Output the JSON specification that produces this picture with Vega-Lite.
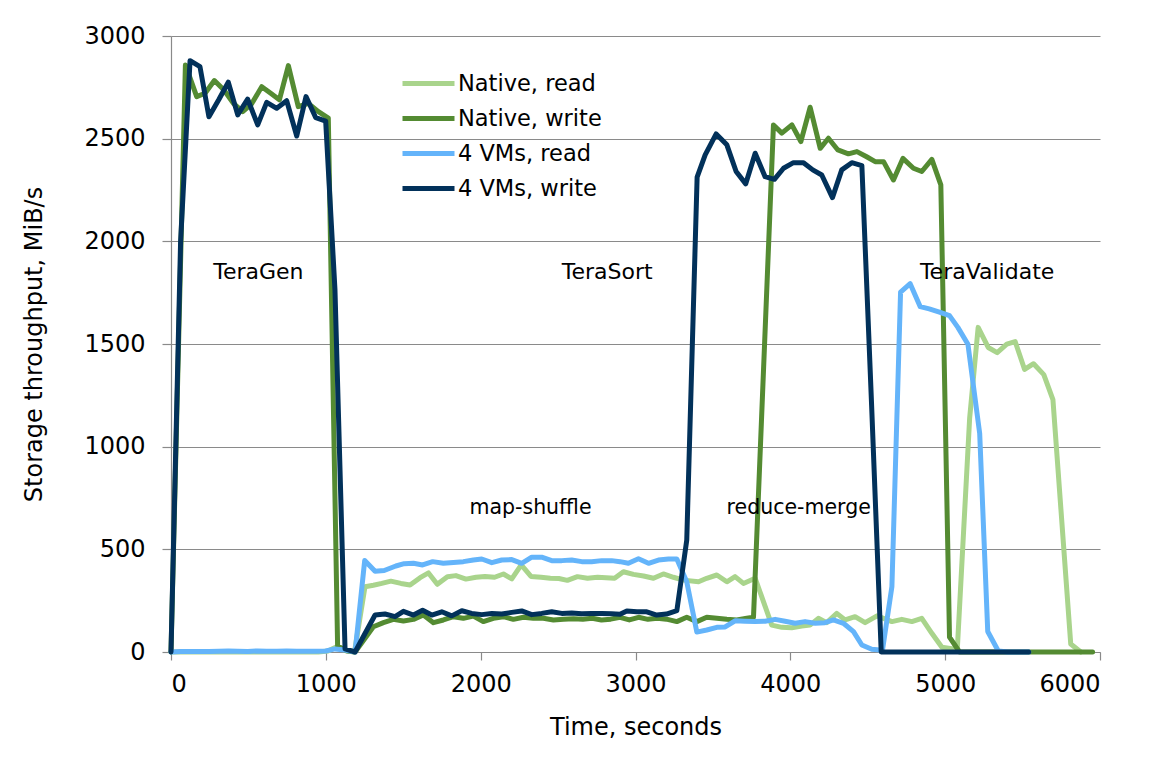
{
  "$schema": "https://vega.github.io/schema/vega-lite/v6.json",
  "width": 929,
  "height": 616,
  "autosize": {"type": "none"},
  "padding": {"left": 171, "top": 36, "right": 65, "bottom": 118},
  "background": "white",
  "config": {
    "view": {"stroke": null},
    "font": "DejaVu Sans",
    "axis": {
      "domainColor": "#8a8a8a", "tickColor": "#8a8a8a", "gridColor": "#8a8a8a",
      "domainWidth": 1.2, "tickWidth": 1.2, "gridWidth": 1.2,
      "labelColor": "black", "titleColor": "black",
      "labelFont": "DejaVu Sans", "titleFont": "DejaVu Sans",
      "labelFontSize": 24, "titleFontSize": 24, "titleFontWeight": "normal"
    }
  },
  "datasets": {
    "series": [
      {"s":"Native, read","t":0,"v":0},{"s":"Native, read","t":93,"v":0},{"s":"Native, read","t":155,"v":0},{"s":"Native, read","t":216,"v":0},{"s":"Native, read","t":277,"v":0},{"s":"Native, read","t":339,"v":0},{"s":"Native, read","t":400,"v":0},{"s":"Native, read","t":462,"v":0},{"s":"Native, read","t":523,"v":0},{"s":"Native, read","t":584,"v":0},{"s":"Native, read","t":646,"v":0},{"s":"Native, read","t":707,"v":0},{"s":"Native, read","t":768,"v":0},{"s":"Native, read","t":830,"v":0},{"s":"Native, read","t":891,"v":0},{"s":"Native, read","t":952,"v":0},{"s":"Native, read","t":1014,"v":5},{"s":"Native, read","t":1070,"v":26},{"s":"Native, read","t":1130,"v":8},{"s":"Native, read","t":1185,"v":0},{"s":"Native, read","t":1253,"v":318},{"s":"Native, read","t":1307,"v":325},{"s":"Native, read","t":1361,"v":334},{"s":"Native, read","t":1420,"v":345},{"s":"Native, read","t":1485,"v":334},{"s":"Native, read","t":1544,"v":326},{"s":"Native, read","t":1609,"v":362},{"s":"Native, read","t":1663,"v":385},{"s":"Native, read","t":1720,"v":330},{"s":"Native, read","t":1785,"v":367},{"s":"Native, read","t":1840,"v":372},{"s":"Native, read","t":1905,"v":355},{"s":"Native, read","t":1970,"v":364},{"s":"Native, read","t":2028,"v":368},{"s":"Native, read","t":2090,"v":364},{"s":"Native, read","t":2147,"v":380},{"s":"Native, read","t":2201,"v":356},{"s":"Native, read","t":2262,"v":424},{"s":"Native, read","t":2325,"v":368},{"s":"Native, read","t":2390,"v":364},{"s":"Native, read","t":2450,"v":359},{"s":"Native, read","t":2505,"v":358},{"s":"Native, read","t":2560,"v":349},{"s":"Native, read","t":2625,"v":367},{"s":"Native, read","t":2690,"v":359},{"s":"Native, read","t":2755,"v":364},{"s":"Native, read","t":2810,"v":362},{"s":"Native, read","t":2865,"v":359},{"s":"Native, read","t":2922,"v":391},{"s":"Native, read","t":2987,"v":378},{"s":"Native, read","t":3052,"v":370},{"s":"Native, read","t":3116,"v":359},{"s":"Native, read","t":3180,"v":380},{"s":"Native, read","t":3245,"v":364},{"s":"Native, read","t":3309,"v":350},{"s":"Native, read","t":3407,"v":342},{"s":"Native, read","t":3460,"v":359},{"s":"Native, read","t":3525,"v":375},{"s":"Native, read","t":3590,"v":342},{"s":"Native, read","t":3643,"v":367},{"s":"Native, read","t":3697,"v":334},{"s":"Native, read","t":3773,"v":359},{"s":"Native, read","t":3880,"v":131},{"s":"Native, read","t":3945,"v":120},{"s":"Native, read","t":4009,"v":118},{"s":"Native, read","t":4074,"v":126},{"s":"Native, read","t":4127,"v":131},{"s":"Native, read","t":4181,"v":164},{"s":"Native, read","t":4235,"v":143},{"s":"Native, read","t":4300,"v":188},{"s":"Native, read","t":4354,"v":156},{"s":"Native, read","t":4418,"v":172},{"s":"Native, read","t":4483,"v":143},{"s":"Native, read","t":4560,"v":176},{"s":"Native, read","t":4656,"v":148},{"s":"Native, read","t":4720,"v":159},{"s":"Native, read","t":4785,"v":148},{"s":"Native, read","t":4849,"v":164},{"s":"Native, read","t":4914,"v":91},{"s":"Native, read","t":4979,"v":23},{"s":"Native, read","t":5054,"v":15},{"s":"Native, read","t":5078,"v":8},{"s":"Native, read","t":5158,"v":1138},{"s":"Native, read","t":5213,"v":1581},{"s":"Native, read","t":5278,"v":1483},{"s":"Native, read","t":5336,"v":1458},{"s":"Native, read","t":5398,"v":1499},{"s":"Native, read","t":5452,"v":1512},{"s":"Native, read","t":5513,"v":1376},{"s":"Native, read","t":5571,"v":1404},{"s":"Native, read","t":5637,"v":1351},{"s":"Native, read","t":5696,"v":1229},{"s":"Native, read","t":5811,"v":39},{"s":"Native, read","t":5876,"v":0},

      {"s":"Native, write","t":0,"v":0},{"s":"Native, write","t":93,"v":2859},{"s":"Native, write","t":166,"v":2705},{"s":"Native, write","t":220,"v":2721},{"s":"Native, write","t":280,"v":2783},{"s":"Native, write","t":342,"v":2737},{"s":"Native, write","t":403,"v":2672},{"s":"Native, write","t":463,"v":2632},{"s":"Native, write","t":521,"v":2670},{"s":"Native, write","t":586,"v":2753},{"s":"Native, write","t":644,"v":2721},{"s":"Native, write","t":700,"v":2689},{"s":"Native, write","t":758,"v":2856},{"s":"Native, write","t":822,"v":2656},{"s":"Native, write","t":887,"v":2672},{"s":"Native, write","t":952,"v":2632},{"s":"Native, write","t":1016,"v":2600},{"s":"Native, write","t":1076,"v":30},{"s":"Native, write","t":1136,"v":5},{"s":"Native, write","t":1189,"v":0},{"s":"Native, write","t":1307,"v":123},{"s":"Native, write","t":1372,"v":143},{"s":"Native, write","t":1436,"v":159},{"s":"Native, write","t":1501,"v":151},{"s":"Native, write","t":1566,"v":159},{"s":"Native, write","t":1630,"v":180},{"s":"Native, write","t":1695,"v":143},{"s":"Native, write","t":1759,"v":156},{"s":"Native, write","t":1824,"v":172},{"s":"Native, write","t":1888,"v":164},{"s":"Native, write","t":1953,"v":175},{"s":"Native, write","t":2017,"v":148},{"s":"Native, write","t":2082,"v":164},{"s":"Native, write","t":2146,"v":172},{"s":"Native, write","t":2211,"v":159},{"s":"Native, write","t":2276,"v":169},{"s":"Native, write","t":2340,"v":164},{"s":"Native, write","t":2405,"v":164},{"s":"Native, write","t":2470,"v":156},{"s":"Native, write","t":2535,"v":159},{"s":"Native, write","t":2600,"v":162},{"s":"Native, write","t":2660,"v":160},{"s":"Native, write","t":2720,"v":164},{"s":"Native, write","t":2780,"v":156},{"s":"Native, write","t":2840,"v":160},{"s":"Native, write","t":2900,"v":169},{"s":"Native, write","t":2960,"v":156},{"s":"Native, write","t":3020,"v":169},{"s":"Native, write","t":3080,"v":159},{"s":"Native, write","t":3140,"v":164},{"s":"Native, write","t":3200,"v":160},{"s":"Native, write","t":3267,"v":148},{"s":"Native, write","t":3331,"v":169},{"s":"Native, write","t":3396,"v":148},{"s":"Native, write","t":3460,"v":169},{"s":"Native, write","t":3525,"v":164},{"s":"Native, write","t":3590,"v":159},{"s":"Native, write","t":3654,"v":156},{"s":"Native, write","t":3719,"v":164},{"s":"Native, write","t":3762,"v":169},{"s":"Native, write","t":3891,"v":2567},{"s":"Native, write","t":3945,"v":2527},{"s":"Native, write","t":4010,"v":2567},{"s":"Native, write","t":4068,"v":2486},{"s":"Native, write","t":4128,"v":2653},{"s":"Native, write","t":4193,"v":2453},{"s":"Native, write","t":4246,"v":2502},{"s":"Native, write","t":4307,"v":2445},{"s":"Native, write","t":4375,"v":2426},{"s":"Native, write","t":4430,"v":2437},{"s":"Native, write","t":4490,"v":2413},{"s":"Native, write","t":4548,"v":2388},{"s":"Native, write","t":4602,"v":2388},{"s":"Native, write","t":4666,"v":2299},{"s":"Native, write","t":4727,"v":2404},{"s":"Native, write","t":4795,"v":2356},{"s":"Native, write","t":4849,"v":2340},{"s":"Native, write","t":4914,"v":2399},{"s":"Native, write","t":4972,"v":2275},{"s":"Native, write","t":5028,"v":72},{"s":"Native, write","t":5093,"v":0},{"s":"Native, write","t":5155,"v":0},{"s":"Native, write","t":5215,"v":0},{"s":"Native, write","t":5275,"v":0},{"s":"Native, write","t":5335,"v":0},{"s":"Native, write","t":5395,"v":0},{"s":"Native, write","t":5455,"v":0},{"s":"Native, write","t":5515,"v":0},{"s":"Native, write","t":5575,"v":0},{"s":"Native, write","t":5635,"v":0},{"s":"Native, write","t":5695,"v":0},{"s":"Native, write","t":5755,"v":0},{"s":"Native, write","t":5815,"v":0},{"s":"Native, write","t":5875,"v":0},{"s":"Native, write","t":5952,"v":0},

      {"s":"4 VMs, read","t":0,"v":0},{"s":"4 VMs, read","t":62,"v":3},{"s":"4 VMs, read","t":123,"v":3},{"s":"4 VMs, read","t":187,"v":3},{"s":"4 VMs, read","t":245,"v":3},{"s":"4 VMs, read","t":310,"v":4},{"s":"4 VMs, read","t":370,"v":5},{"s":"4 VMs, read","t":431,"v":4},{"s":"4 VMs, read","t":495,"v":3},{"s":"4 VMs, read","t":560,"v":5},{"s":"4 VMs, read","t":618,"v":4},{"s":"4 VMs, read","t":683,"v":4},{"s":"4 VMs, read","t":747,"v":5},{"s":"4 VMs, read","t":812,"v":4},{"s":"4 VMs, read","t":872,"v":4},{"s":"4 VMs, read","t":935,"v":4},{"s":"4 VMs, read","t":999,"v":5},{"s":"4 VMs, read","t":1059,"v":15},{"s":"4 VMs, read","t":1124,"v":10},{"s":"4 VMs, read","t":1189,"v":0},{"s":"4 VMs, read","t":1251,"v":446},{"s":"4 VMs, read","t":1318,"v":393},{"s":"4 VMs, read","t":1377,"v":397},{"s":"4 VMs, read","t":1452,"v":419},{"s":"4 VMs, read","t":1506,"v":430},{"s":"4 VMs, read","t":1566,"v":432},{"s":"4 VMs, read","t":1625,"v":424},{"s":"4 VMs, read","t":1690,"v":440},{"s":"4 VMs, read","t":1759,"v":432},{"s":"4 VMs, read","t":1824,"v":436},{"s":"4 VMs, read","t":1888,"v":440},{"s":"4 VMs, read","t":1953,"v":448},{"s":"4 VMs, read","t":2007,"v":453},{"s":"4 VMs, read","t":2072,"v":435},{"s":"4 VMs, read","t":2136,"v":448},{"s":"4 VMs, read","t":2201,"v":450},{"s":"4 VMs, read","t":2265,"v":432},{"s":"4 VMs, read","t":2330,"v":462},{"s":"4 VMs, read","t":2394,"v":462},{"s":"4 VMs, read","t":2459,"v":445},{"s":"4 VMs, read","t":2524,"v":445},{"s":"4 VMs, read","t":2588,"v":448},{"s":"4 VMs, read","t":2653,"v":440},{"s":"4 VMs, read","t":2717,"v":440},{"s":"4 VMs, read","t":2782,"v":445},{"s":"4 VMs, read","t":2846,"v":445},{"s":"4 VMs, read","t":2900,"v":440},{"s":"4 VMs, read","t":2954,"v":432},{"s":"4 VMs, read","t":3019,"v":454},{"s":"4 VMs, read","t":3084,"v":432},{"s":"4 VMs, read","t":3148,"v":448},{"s":"4 VMs, read","t":3213,"v":453},{"s":"4 VMs, read","t":3267,"v":453},{"s":"4 VMs, read","t":3331,"v":342},{"s":"4 VMs, read","t":3396,"v":97},{"s":"4 VMs, read","t":3460,"v":107},{"s":"4 VMs, read","t":3525,"v":120},{"s":"4 VMs, read","t":3579,"v":122},{"s":"4 VMs, read","t":3643,"v":152},{"s":"4 VMs, read","t":3708,"v":150},{"s":"4 VMs, read","t":3772,"v":148},{"s":"4 VMs, read","t":3837,"v":150},{"s":"4 VMs, read","t":3902,"v":159},{"s":"4 VMs, read","t":3966,"v":150},{"s":"4 VMs, read","t":4031,"v":140},{"s":"4 VMs, read","t":4095,"v":148},{"s":"4 VMs, read","t":4160,"v":140},{"s":"4 VMs, read","t":4224,"v":143},{"s":"4 VMs, read","t":4278,"v":156},{"s":"4 VMs, read","t":4343,"v":140},{"s":"4 VMs, read","t":4408,"v":99},{"s":"4 VMs, read","t":4462,"v":34},{"s":"4 VMs, read","t":4526,"v":13},{"s":"4 VMs, read","t":4595,"v":8},{"s":"4 VMs, read","t":4656,"v":318},{"s":"4 VMs, read","t":4712,"v":1753},{"s":"4 VMs, read","t":4774,"v":1794},{"s":"4 VMs, read","t":4839,"v":1682},{"s":"4 VMs, read","t":4897,"v":1671},{"s":"4 VMs, read","t":4963,"v":1655},{"s":"4 VMs, read","t":5028,"v":1638},{"s":"4 VMs, read","t":5082,"v":1581},{"s":"4 VMs, read","t":5147,"v":1499},{"s":"4 VMs, read","t":5223,"v":1064},{"s":"4 VMs, read","t":5275,"v":100},{"s":"4 VMs, read","t":5343,"v":5},{"s":"4 VMs, read","t":5405,"v":0},{"s":"4 VMs, read","t":5470,"v":0},{"s":"4 VMs, read","t":5540,"v":0},

      {"s":"4 VMs, write","t":0,"v":0},{"s":"4 VMs, write","t":62,"v":2000},{"s":"4 VMs, write","t":123,"v":2880},{"s":"4 VMs, write","t":187,"v":2851},{"s":"4 VMs, write","t":245,"v":2607},{"s":"4 VMs, write","t":310,"v":2692},{"s":"4 VMs, write","t":370,"v":2775},{"s":"4 VMs, write","t":431,"v":2616},{"s":"4 VMs, write","t":495,"v":2693},{"s":"4 VMs, write","t":560,"v":2567},{"s":"4 VMs, write","t":618,"v":2677},{"s":"4 VMs, write","t":683,"v":2648},{"s":"4 VMs, write","t":747,"v":2685},{"s":"4 VMs, write","t":812,"v":2513},{"s":"4 VMs, write","t":872,"v":2705},{"s":"4 VMs, write","t":935,"v":2602},{"s":"4 VMs, write","t":999,"v":2586},{"s":"4 VMs, write","t":1059,"v":1763},{"s":"4 VMs, write","t":1124,"v":15},{"s":"4 VMs, write","t":1189,"v":0},{"s":"4 VMs, write","t":1253,"v":90},{"s":"4 VMs, write","t":1318,"v":180},{"s":"4 VMs, write","t":1382,"v":185},{"s":"4 VMs, write","t":1447,"v":172},{"s":"4 VMs, write","t":1501,"v":198},{"s":"4 VMs, write","t":1566,"v":180},{"s":"4 VMs, write","t":1625,"v":203},{"s":"4 VMs, write","t":1684,"v":180},{"s":"4 VMs, write","t":1749,"v":196},{"s":"4 VMs, write","t":1813,"v":176},{"s":"4 VMs, write","t":1878,"v":201},{"s":"4 VMs, write","t":1942,"v":188},{"s":"4 VMs, write","t":2007,"v":182},{"s":"4 VMs, write","t":2072,"v":188},{"s":"4 VMs, write","t":2136,"v":185},{"s":"4 VMs, write","t":2201,"v":193},{"s":"4 VMs, write","t":2265,"v":200},{"s":"4 VMs, write","t":2330,"v":182},{"s":"4 VMs, write","t":2394,"v":188},{"s":"4 VMs, write","t":2459,"v":196},{"s":"4 VMs, write","t":2524,"v":188},{"s":"4 VMs, write","t":2588,"v":190},{"s":"4 VMs, write","t":2653,"v":186},{"s":"4 VMs, write","t":2717,"v":188},{"s":"4 VMs, write","t":2782,"v":188},{"s":"4 VMs, write","t":2846,"v":186},{"s":"4 VMs, write","t":2900,"v":184},{"s":"4 VMs, write","t":2944,"v":200},{"s":"4 VMs, write","t":3009,"v":196},{"s":"4 VMs, write","t":3073,"v":196},{"s":"4 VMs, write","t":3137,"v":180},{"s":"4 VMs, write","t":3200,"v":185},{"s":"4 VMs, write","t":3267,"v":201},{"s":"4 VMs, write","t":3331,"v":545},{"s":"4 VMs, write","t":3398,"v":2313},{"s":"4 VMs, write","t":3450,"v":2421},{"s":"4 VMs, write","t":3521,"v":2523},{"s":"4 VMs, write","t":3590,"v":2470},{"s":"4 VMs, write","t":3650,"v":2340},{"s":"4 VMs, write","t":3712,"v":2280},{"s":"4 VMs, write","t":3773,"v":2429},{"s":"4 VMs, write","t":3837,"v":2315},{"s":"4 VMs, write","t":3897,"v":2302},{"s":"4 VMs, write","t":3956,"v":2356},{"s":"4 VMs, write","t":4020,"v":2383},{"s":"4 VMs, write","t":4085,"v":2383},{"s":"4 VMs, write","t":4145,"v":2348},{"s":"4 VMs, write","t":4203,"v":2323},{"s":"4 VMs, write","t":4272,"v":2213},{"s":"4 VMs, write","t":4332,"v":2348},{"s":"4 VMs, write","t":4397,"v":2383},{"s":"4 VMs, write","t":4462,"v":2369},{"s":"4 VMs, write","t":4525,"v":1200},{"s":"4 VMs, write","t":4587,"v":0},{"s":"4 VMs, write","t":4650,"v":0},{"s":"4 VMs, write","t":4712,"v":0},{"s":"4 VMs, write","t":4774,"v":0},{"s":"4 VMs, write","t":4839,"v":0},{"s":"4 VMs, write","t":4900,"v":0},{"s":"4 VMs, write","t":4963,"v":0},{"s":"4 VMs, write","t":5028,"v":0},{"s":"4 VMs, write","t":5090,"v":0},{"s":"4 VMs, write","t":5150,"v":0},{"s":"4 VMs, write","t":5215,"v":0},{"s":"4 VMs, write","t":5280,"v":0},{"s":"4 VMs, write","t":5343,"v":0},{"s":"4 VMs, write","t":5405,"v":0},{"s":"4 VMs, write","t":5470,"v":0},{"s":"4 VMs, write","t":5540,"v":0}
    ],
    "phases": [
      {"label":"TeraGen","t":564,"v":1815},
      {"label":"TeraSort","t":2817,"v":1815},
      {"label":"TeraValidate","t":5271,"v":1815}
    ],
    "subphases": [
      {"label":"map-shuffle","t":2322,"v":672},
      {"label":"reduce-merge","t":4054,"v":672}
    ]
  },
  "layer": [
    {
      "data": {"name": "series"},
      "mark": {"type": "line", "strokeWidth": 5, "strokeJoin": "round", "strokeCap": "round", "clip": false},
      "encoding": {
        "x": {
          "field": "t", "type": "quantitative",
          "scale": {"domain": [0, 6000], "nice": false, "zero": false},
          "axis": {
            "values": [0, 1000, 2000, 3000, 4000, 5000, 6000], "format": "d",
            "grid": false, "tickSize": 8, "labelPadding": 12,
            "title": "Time, seconds", "titleY": 82, "titleBaseline": "alphabetic", "titleX": 464.5, "titleAlign": "center"
          }
        },
        "y": {
          "field": "v", "type": "quantitative",
          "scale": {"domain": [0, 3000], "nice": false},
          "axis": {
            "values": [0, 500, 1000, 1500, 2000, 2500, 3000], "format": "d",
            "grid": true, "tickSize": 9, "labelPadding": 17,
            "title": "Storage throughput, MiB/s", "titleX": -130, "titleY": 308, "titleAlign": "center", "titleBaseline": "alphabetic", "titleAngle": -90
          }
        },
        "color": {
          "field": "s", "type": "nominal",
          "scale": {
            "domain": ["Native, read", "Native, write", "4 VMs, read", "4 VMs, write"],
            "range": ["#a9d48c", "#548b32", "#64b4fa", "#02315a"]
          },
          "legend": {
            "title": null, "orient": "none", "legendX": 242, "legendY": 32,
            "symbolType": "M-2,0H2", "symbolSize": 676, "symbolStrokeWidth": 5,
            "labelFontSize": 22.5, "labelFont": "DejaVu Sans", "labelColor": "black",
            "labelOffset": 14, "rowPadding": 8, "padding": 0
          }
        }
      }
    },
    {
      "data": {"name": "phases"},
      "mark": {"type": "text", "font": "DejaVu Sans", "fontSize": 22, "align": "center", "baseline": "alphabetic", "color": "black"},
      "encoding": {
        "x": {"field": "t", "type": "quantitative"},
        "y": {"field": "v", "type": "quantitative"},
        "text": {"field": "label"}
      }
    },
    {
      "data": {"name": "subphases"},
      "mark": {"type": "text", "font": "DejaVu Sans", "fontSize": 20.5, "align": "center", "baseline": "alphabetic", "color": "black"},
      "encoding": {
        "x": {"field": "t", "type": "quantitative"},
        "y": {"field": "v", "type": "quantitative"},
        "text": {"field": "label"}
      }
    }
  ]
}
